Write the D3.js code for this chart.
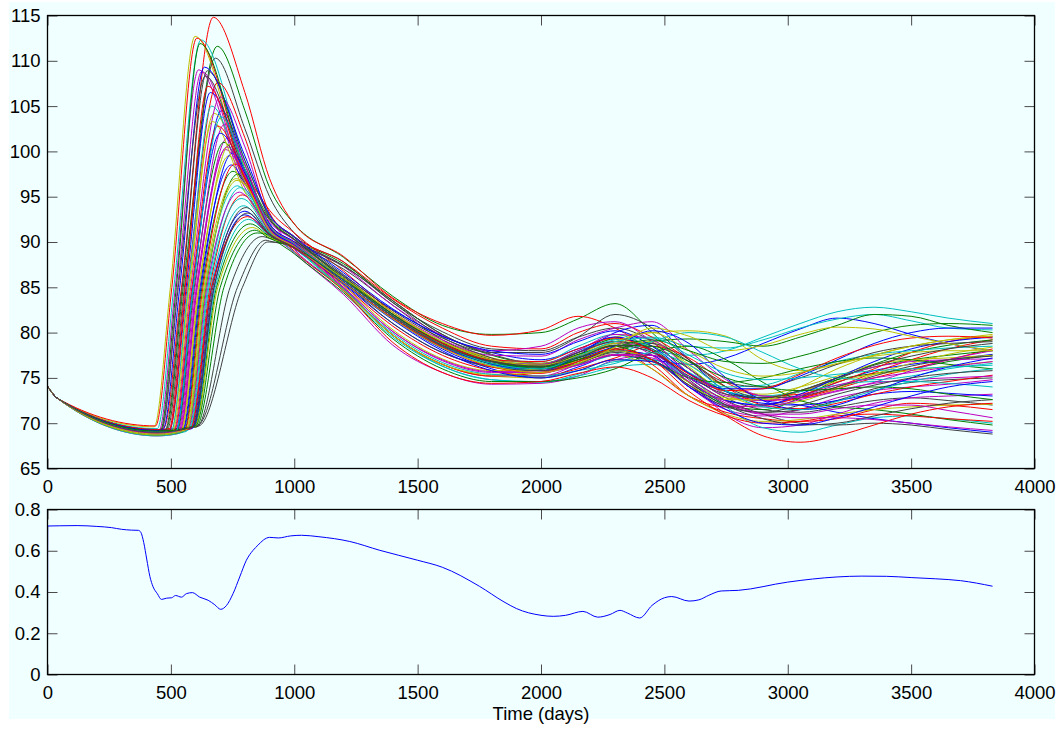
<!DOCTYPE html>
<html>
<head>
<meta charset="utf-8">
<script src="https://cdn.jsdelivr.net/npm/d3@7"></script>
<style>
  body { margin: 0; background: #fff; }
  svg { display: block; font-family: "Liberation Sans", Arial, Helvetica, sans-serif; }
</style>
</head>
<body>
<svg id="chart"></svg>
<script>
// ---- data ----
// shared start of every run (days, value)
const startDays = [0, 40];
const startValues = [74.1, 72.75];
const floorDay = 445;
const riseLevel = 85;   // level used to locate the steep climb of each run

// one entry per run (56 runs, drawn in this order)
const takeoffDay = [522,480,472,445,450,432,484,546,603,438, 581,536,502,610,492,566,495,498,510,540,
  614,584,525,578,563,532,543,606,550,553, 556,592,460,506,476,468,455,488,572,528,
  560,463,518,595,514,575,569,597,587,590, 600,580,520,535,565,589];
const floorValue = [69.0,69.2,69.3,null,null,null,69.1,68.8,69.0,null, 68.9,68.6,69.1,69.3,69.0,68.8,69.3,68.7,69.0,68.8,
  69.1,68.8,68.9,68.9,68.6,69.1,68.9,69.2,69.0,68.7, 68.8,69.0,69.1,69.0,69.1,69.2,null,68.8,68.9,68.9,
  68.7,69.1,69.0,69.1,69.0,68.8,68.9,69.0,69.0,68.9, 69.1,68.9,69.0,68.9,68.8,69.0];
const takeoffValue = [69.1,69.3,69.5,69.4,69.0,69.6,69.2,69.1,69.6,69.7, 69.5,68.9,69.2,69.8,69.0,69.3,69.4,68.8,69.1,69.2,
  69.7,69.4,69.1,69.5,69.1,69.2,69.2,69.6,69.3,69.1, 69.2,69.6,69.2,69.1,69.2,69.3,69.0,68.9,69.4,69.1,
  69.2,69.3,69.1,69.6,69.2,69.3,69.4,69.6,69.5,69.5, 69.7,69.4,69.1,69.1,69.3,69.6];
const riseDay = [590,550,543,512,518,498,555,618,715,504, 662,607,572,770,562,642,566,570,580,612,
  790,666,595,658,638,603,615,740,622,626, 630,680,527,576,546,536,522,558,650,598,
  634,530,588,685,585,654,646,690,670,675, 700,665,590,606,640,675];
const peakDay = [706,688,672,622,612,598,680,745,850,605, 795,730,675,885,660,772,690,665,700,735,
  893,800,715,790,770,722,740,870,750,752, 760,815,625,668,648,636,618,650,782,718,
  765,640,700,822,690,785,778,830,805,800, 840,810,705,728,768,812];
const peakValue = [104.5,111.6,114.8,112.3,109.0,112.7,110.3,98.5,91.0,112.5, 94.0,101.5,104.2,90.2,106.5,97.5,107.6,105.0,106.0,99.5,
  90.0,93.4,101.0,95.2,96.2,100.2,100.8,90.6,99.8,97.8, 98.6,92.5,108.8,103.3,108.9,109.3,111.9,107.2,96.0,103.0,
  97.0,108.3,102.0,92.0,102.8,94.8,95.5,91.6,93.8,93.0, 91.3,92.8,103.8,100.5,96.8,93.2];

// values after the peak, at these days
const lateDays = [800, 900, 1000, 1200, 1400, 1600, 1800, 2000, 2150, 2300, 2450, 2600, 2750, 2900, 3050, 3200, 3350, 3500, 3650, 3830];
const lateValues = [
  [98.5, 92.0, 90.0, 86.3, 82.5, 79.6, 77.8, 77.0, 78.2, 79.5, 78.0, 74.5, 72.5, 72.0, 73.0, 74.5, 75.8, 76.5, 77.0, 77.6],
  [104.5, 96.0, 92.0, 88.3, 84.0, 80.8, 79.8, 80.0, 81.5, 83.2, 80.0, 76.0, 73.5, 72.8, 73.5, 74.8, 75.5, 76.0, 76.8, 77.5],
  [106.5, 97.0, 92.0, 88.4, 83.8, 81.0, 79.7, 80.3, 81.8, 80.5, 78.0, 75.5, 73.5, 72.5, 72.8, 73.8, 75.0, 76.0, 77.0, 78.2],
  [99.0, 93.0, 90.5, 86.0, 82.0, 79.0, 77.0, 76.2, 77.2, 78.6, 78.0, 77.5, 78.0, 79.5, 81.0, 82.3, 82.8, 82.3, 81.6, 81.0],
  [96.0, 92.5, 89.2, 84.9, 79.7, 76.5, 75.2, 75.2, 76.5, 78.0, 77.5, 74.0, 71.5, 70.8, 71.5, 72.8, 73.6, 74.0, 74.3, 74.8],
  [97.0, 92.5, 90.2, 86.0, 81.8, 78.8, 77.0, 76.0, 77.5, 79.5, 80.0, 80.2, 79.6, 77.0, 75.8, 76.5, 77.5, 78.5, 79.2, 79.8],
  [102.5, 95.0, 91.0, 87.8, 83.3, 80.1, 78.2, 78.0, 79.5, 80.5, 79.0, 75.5, 72.8, 71.5, 71.2, 71.8, 72.5, 72.8, 72.5, 72.0],
  [96.5, 91.2, 89.5, 85.5, 81.5, 78.2, 76.0, 75.0, 76.2, 77.5, 77.0, 76.5, 77.2, 78.8, 80.4, 81.6, 81.0, 79.8, 78.8, 78.0],
  [null, 90.8, 90.0, 87.6, 83.5, 79.8, 77.5, 76.6, 77.8, 79.3, 78.5, 76.0, 73.5, 72.8, 73.6, 75.0, 76.2, 77.0, 77.5, 78.0],
  [98.0, 93.5, 91.0, 86.8, 82.2, 78.8, 76.5, 75.5, 76.8, 78.2, 76.0, 73.0, 71.8, 72.0, 72.8, 74.0, 75.6, 77.0, 78.2, 79.2],
  [null, 91.0, 89.5, 85.8, 81.8, 78.8, 77.0, 76.5, 78.0, 79.2, 79.5, 78.5, 78.3, 79.2, 80.5, 81.5, 82.0, 81.3, 80.5, 80.3],
  [97.8, 91.5, 88.8, 84.2, 78.6, 75.6, 74.3, 74.4, 75.2, 77.0, 77.5, 74.5, 71.0, 69.5, 69.8, 71.0, 72.2, 72.8, 73.0, 73.2],
  [97.0, 91.8, 89.8, 86.0, 82.0, 79.0, 77.2, 76.3, 77.6, 79.0, 78.8, 76.5, 74.0, 73.2, 74.0, 75.2, 76.5, 77.0, 77.2, 77.5],
  [null, 90.1, 89.5, 87.0, 83.0, 79.2, 77.0, 75.8, 76.5, 77.5, 76.8, 74.2, 72.0, 71.2, 71.5, 72.5, 73.8, 74.5, 74.8, 75.0],
  [98.0, 92.0, 90.0, 86.2, 82.0, 78.6, 76.5, 75.8, 77.5, 80.0, 80.8, 77.0, 73.5, 72.2, 72.0, 72.5, 73.2, 73.5, 73.3, 73.0],
  [96.8, 91.5, 89.6, 85.6, 81.6, 78.5, 76.8, 76.2, 77.0, 78.0, 77.0, 74.5, 72.0, 71.5, 72.8, 74.8, 76.5, 77.8, 78.6, 79.2],
  [101.5, 93.2, 90.6, 87.8, 83.7, 80.5, 78.5, 78.2, 80.0, 81.0, 79.5, 77.0, 74.0, 72.0, 71.6, 72.2, 73.2, 74.0, 74.6, 75.3],
  [96.5, 91.5, 88.9, 84.8, 79.7, 76.3, 74.8, 74.6, 75.2, 76.2, 76.5, 75.0, 71.8, 69.5, 69.0, 69.8, 70.6, 70.8, 70.5, 70.0],
  [100.5, 92.6, 90.3, 87.3, 83.0, 79.7, 78.0, 78.5, 80.5, 81.2, 79.0, 75.5, 73.0, 72.5, 73.5, 75.0, 76.2, 76.8, 77.0, 77.1],
  [96.8, 91.3, 89.4, 84.7, 79.7, 76.5, 75.2, 75.0, 75.8, 77.0, 76.8, 74.5, 72.8, 72.5, 73.5, 74.6, 75.4, 75.8, 76.3, 76.8],
  [null, 90.0, 89.6, 87.3, 83.5, 79.8, 77.6, 76.6, 77.5, 78.8, 78.0, 75.0, 72.5, 71.0, 70.0, 69.8, 70.0, 69.8, 69.3, 68.8],
  [null, 90.8, 89.3, 85.3, 81.0, 77.8, 76.4, 76.2, 77.8, 79.5, 78.0, 75.0, 73.5, 72.5, 72.0, 71.2, 70.5, 70.0, 69.5, 69.0],
  [97.0, 91.6, 89.8, 85.8, 81.8, 78.6, 76.8, 76.0, 77.0, 78.0, 79.0, 79.3, 79.0, 78.5, 79.5, 80.8, 82.0, 81.8, 80.8, 80.0],
  [null, 91.5, 89.6, 85.2, 80.7, 77.5, 75.8, 75.2, 76.0, 77.2, 78.5, 77.2, 74.5, 73.0, 73.2, 74.5, 76.0, 77.8, 79.0, 79.6],
  [95.6, 91.2, 89.3, 84.6, 79.5, 76.3, 74.8, 74.5, 75.4, 76.8, 77.0, 75.2, 73.5, 73.0, 73.5, 74.2, 74.6, 74.6, 74.4, 74.0],
  [97.2, 91.4, 89.7, 86.0, 82.2, 79.2, 77.5, 77.4, 79.2, 80.5, 81.2, 78.0, 74.8, 73.0, 72.8, 73.5, 74.5, 75.8, 77.0, 78.0],
  [98.4, 91.8, 89.9, 86.2, 82.2, 79.0, 77.2, 76.6, 77.5, 78.8, 79.0, 76.2, 73.2, 72.0, 72.4, 73.8, 75.4, 76.6, 77.6, 78.4],
  [null, 90.4, 89.8, 87.4, 83.3, 79.5, 77.2, 76.0, 76.8, 78.2, 78.8, 76.8, 74.0, 72.8, 73.0, 74.0, 75.2, 76.3, 77.0, 77.4],
  [98.0, 91.6, 89.8, 85.8, 81.8, 78.6, 76.6, 75.8, 76.8, 78.0, 77.5, 74.0, 72.5, 72.0, 73.2, 75.0, 76.8, 78.2, 79.0, 79.5],
  [96.5, 91.0, 88.7, 84.4, 79.3, 76.0, 74.6, 74.6, 75.0, 76.0, 77.8, 78.5, 77.0, 74.5, 72.5, 71.8, 71.5, 71.0, 70.4, 69.8],
  [97.6, 91.4, 89.5, 84.8, 79.7, 76.5, 75.2, 75.6, 77.0, 78.5, 76.5, 73.0, 71.2, 70.5, 70.2, 70.5, 71.5, 72.2, 72.0, 71.5],
  [null, 90.7, 89.4, 85.8, 82.0, 78.8, 77.0, 76.8, 78.5, 79.8, 78.2, 75.6, 74.0, 74.2, 75.5, 76.8, 77.6, 78.0, 78.3, 78.5],
  [96.5, 92.2, 90.2, 86.0, 82.0, 78.8, 76.8, 76.2, 77.8, 79.0, 77.5, 74.0, 72.0, 71.8, 72.6, 73.6, 74.4, 74.8, 75.0, 75.2],
  [95.5, 91.6, 89.8, 85.2, 80.3, 77.1, 75.8, 76.0, 76.8, 77.6, 76.0, 73.0, 71.0, 70.2, 70.4, 71.0, 71.5, 71.8, 72.0, 72.1],
  [99.0, 92.8, 90.5, 86.4, 82.4, 79.4, 77.8, 77.8, 79.5, 82.0, 80.5, 77.0, 74.5, 74.0, 75.0, 76.5, 77.8, 78.5, 78.8, 79.0],
  [99.5, 93.0, 90.6, 86.6, 82.6, 79.6, 78.0, 77.6, 79.0, 80.2, 78.5, 75.5, 73.8, 73.8, 75.2, 77.0, 78.8, 80.0, 80.5, 80.5],
  [98.0, 92.6, 90.3, 86.0, 81.8, 78.6, 76.6, 76.2, 77.6, 78.5, 77.0, 75.0, 74.5, 75.0, 76.0, 76.8, 77.2, 77.0, 76.5, 76.0],
  [97.0, 91.8, 89.0, 84.6, 78.9, 75.6, 74.4, 74.6, 75.5, 76.2, 75.0, 72.5, 70.8, 70.0, 70.2, 70.8, 71.0, 70.8, 70.5, 70.2],
  [95.8, 91.3, 89.5, 85.6, 81.6, 78.4, 76.4, 75.8, 76.5, 77.6, 79.0, 80.0, 79.5, 77.8, 76.0, 75.0, 74.8, 75.2, 76.0, 76.6],
  [98.6, 91.8, 89.9, 85.8, 81.8, 78.6, 76.8, 76.5, 78.0, 79.8, 79.2, 76.0, 73.2, 72.5, 73.0, 74.2, 75.0, 75.6, 76.2, 76.8],
  [96.4, 91.2, 89.4, 84.7, 79.7, 76.5, 75.4, 75.6, 76.6, 78.0, 77.0, 74.2, 72.6, 72.6, 74.0, 76.0, 77.5, 78.5, 79.2, 79.6],
  [97.5, 92.4, 90.3, 86.2, 82.0, 78.9, 76.9, 76.4, 77.8, 79.0, 78.2, 74.8, 72.0, 70.5, 69.8, 70.0, 70.8, 71.6, 72.2, 72.6],
  [97.6, 91.6, 89.7, 85.6, 81.6, 78.4, 76.6, 76.0, 77.2, 78.5, 80.2, 78.8, 75.0, 72.5, 71.5, 72.0, 73.5, 75.0, 76.2, 77.2],
  [null, 90.6, 89.4, 86.0, 82.0, 78.8, 76.8, 76.2, 77.2, 78.6, 78.5, 76.8, 75.0, 74.0, 73.6, 73.8, 74.0, 73.8, 73.2, 72.6],
  [97.2, 91.8, 89.8, 85.8, 81.8, 78.8, 77.0, 76.8, 78.2, 79.4, 78.0, 75.4, 73.6, 73.8, 75.4, 77.2, 78.6, 79.4, 79.6, 79.4],
  [94.7, 91.0, 89.3, 84.8, 79.9, 76.7, 75.4, 75.2, 75.8, 76.6, 77.8, 76.4, 73.6, 71.8, 71.5, 72.4, 73.6, 74.6, 75.4, 76.0],
  [95.2, 91.2, 89.5, 85.0, 80.1, 77.0, 75.7, 75.8, 76.4, 77.5, 77.2, 74.6, 72.2, 71.0, 71.0, 71.6, 72.0, 72.0, 71.4, 70.6],
  [null, 90.5, 89.4, 86.0, 82.2, 79.0, 77.0, 76.4, 77.4, 79.0, 80.0, 78.0, 76.0, 75.2, 75.6, 76.6, 77.4, 77.8, 78.0, 78.0],
  [null, 90.9, 89.5, 85.5, 81.0, 77.8, 76.2, 75.8, 76.6, 77.8, 77.0, 74.2, 71.8, 71.2, 72.0, 73.2, 74.2, 75.0, 75.5, 75.8],
  [null, 90.8, 89.3, 85.4, 81.4, 78.0, 75.8, 75.0, 75.8, 77.0, 76.8, 74.0, 71.5, 70.0, 69.8, 70.6, 71.8, 73.0, 74.0, 74.6],
  [null, 90.4, 89.4, 85.8, 81.8, 78.6, 76.6, 76.0, 77.0, 78.4, 79.2, 78.0, 76.8, 76.6, 77.4, 78.6, 80.0, 80.8, 81.0, 80.8],
  [null, 90.8, 89.3, 85.5, 81.6, 78.4, 76.2, 75.6, 76.8, 78.2, 77.0, 73.5, 70.8, 68.6, 67.9, 68.6, 69.8, 71.0, 71.8, 72.2],
  [98.0, 91.8, 89.8, 85.8, 81.8, 78.6, 76.6, 76.0, 77.4, 79.0, 79.4, 77.5, 75.5, 74.8, 75.0, 75.4, 75.8, 76.0, 76.2, 76.4],
  [97.4, 91.4, 89.6, 85.0, 80.1, 76.9, 75.6, 75.6, 76.4, 77.6, 77.5, 75.0, 72.4, 71.0, 70.6, 70.6, 70.4, 70.0, 69.6, 69.2],
  [96.3, 91.3, 89.5, 85.5, 81.5, 78.3, 76.3, 75.6, 76.6, 78.4, 80.5, 79.6, 78.0, 78.6, 79.8, 80.6, 80.4, 79.6, 78.8, 78.0],
  [null, 90.8, 89.4, 85.8, 81.8, 78.6, 76.8, 76.3, 77.3, 78.6, 77.8, 75.2, 73.2, 72.8, 73.6, 75.0, 76.4, 77.4, 78.2, 78.8]
];

// lower panel: single blue series
const ratioDays = [0, 1, 50, 120, 200, 260, 300, 340, 368, 378, 390, 402, 415, 428, 445, 462, 482, 503, 519, 543,
  563, 587, 617, 651, 678, 702, 725, 752, 779, 806, 833, 853, 875, 900, 935, 985, 1030, 1100, 1225, 1347,
  1500, 1600, 1750, 1850, 1900, 2000, 2050, 2100, 2170, 2230, 2280, 2320, 2350, 2400, 2450, 2500, 2530, 2600, 2640, 2680,
  2730, 2800, 3000, 3200, 3300, 3400, 3500, 3600, 3700, 3830];
const ratioValues = [0, 0.72, 0.721, 0.722, 0.718, 0.712, 0.704, 0.700, 0.699, 0.690, 0.640, 0.560, 0.475, 0.425, 0.392, 0.364, 0.370, 0.372, 0.383, 0.375,
  0.392, 0.397, 0.375, 0.360, 0.338, 0.316, 0.334, 0.392, 0.473, 0.554, 0.602, 0.627, 0.652, 0.665, 0.662, 0.672, 0.675, 0.668, 0.645, 0.602,
  0.554, 0.520, 0.428, 0.352, 0.320, 0.287, 0.282, 0.287, 0.306, 0.278, 0.291, 0.311, 0.298, 0.274, 0.335, 0.372, 0.378, 0.356, 0.362, 0.384,
  0.405, 0.408, 0.448, 0.473, 0.477, 0.476, 0.470, 0.464, 0.455, 0.428];

const xTicks = d3.range(0, 4001, 500);
const topTicks = d3.range(65, 116, 5);
const bottomTicks = [0, 0.2, 0.4, 0.6, 0.8];

// MATLAB default line colour order
const colorOrder = ['#0000ff', '#008000', '#ff0000', '#00bfbf', '#bf00bf', '#bfbf00', '#404040'];

// ---- layout ----
const size = {w: 1063, h: 729};
const svg = d3.select('#chart').attr('width', size.w).attr('height', size.h);

svg.append('rect')
  .attr('x', 9).attr('y', 2)
  .attr('width', 1046).attr('height', 717)
  .attr('fill', '#f0ffff');

const x = d3.scaleLinear().domain([0, 4000]).range([47.5, 1034.5]);
const yTop = d3.scaleLinear().domain([65, 115]).range([468.5, 15.5]);
const yBot = d3.scaleLinear().domain([0, 0.8]).range([674.5, 509.5]);

const fontSize = 18.5;

function frame(yScale, yTickValues, yFormat) {
  const g = svg.append('g');
  const [y0, y1] = yScale.range();
  const [x0, x1] = x.range();

  g.append('g').attr('transform', `translate(0,${y0})`)
    .call(d3.axisBottom(x).tickValues(xTicks).tickSizeInner(-10).tickSizeOuter(0).tickPadding(11).tickFormat(d3.format('d')));
  g.append('g').attr('transform', `translate(0,${y1})`)
    .call(d3.axisTop(x).tickValues(xTicks).tickSizeInner(-10).tickSizeOuter(0).tickFormat(''));
  g.append('g').attr('transform', `translate(${x0},0)`)
    .call(d3.axisLeft(yScale).tickValues(yTickValues).tickSizeInner(-10).tickSizeOuter(0).tickPadding(7).tickFormat(yFormat));
  g.append('g').attr('transform', `translate(${x1},0)`)
    .call(d3.axisRight(yScale).tickValues(yTickValues).tickSizeInner(-10).tickSizeOuter(0).tickFormat(''));

  g.selectAll('.domain').remove();
  g.selectAll('.tick line').attr('stroke', '#4a4a4a').attr('stroke-width', 1);
  g.selectAll('.tick text').attr('fill', '#000').style('font-size', fontSize + 'px')
    .style('font-family', '"Liberation Sans", Arial, Helvetica, sans-serif');

  g.append('rect')
    .attr('x', x0).attr('y', y1)
    .attr('width', x1 - x0).attr('height', y0 - y1)
    .attr('fill', 'none').attr('stroke', '#000').attr('stroke-width', 1.3);
  return g;
}

// ---- top panel: all runs ----
const lineTop = d3.line()
  .x(d => x(d[0]))
  .y(d => yTop(d[1]))
  .curve(d3.curveMonotoneX);

const runs = takeoffDay.map((t0, i) => {
  const pts = startDays.map((d, k) => [d, startValues[k]]);
  if (floorValue[i] != null && t0 - floorDay > 10) pts.push([floorDay, floorValue[i]]);
  pts.push([t0, takeoffValue[i]]);
  if (riseDay[i] < peakDay[i]) pts.push([riseDay[i], riseLevel]);
  pts.push([peakDay[i], peakValue[i]]);
  lateDays.forEach((d, k) => {
    const v = lateValues[i][k];
    if (v != null && d > peakDay[i]) pts.push([d, v]);
  });
  return pts;
});

svg.append('g')
  .selectAll('path')
  .data(runs)
  .join('path')
  .attr('d', lineTop)
  .attr('fill', 'none')
  .attr('stroke', (d, i) => colorOrder[i % colorOrder.length])
  .attr('stroke-width', 1);

frame(yTop, topTicks, d3.format('d'));

// ---- bottom panel ----
const lineBot = d3.line()
  .x(d => x(d[0]))
  .y(d => yBot(d[1]))
  .curve(d3.curveMonotoneX);

svg.append('path')
  .datum(ratioDays.map((d, k) => [d, ratioValues[k]]))
  .attr('d', lineBot)
  .attr('fill', 'none')
  .attr('stroke', '#0000ff')
  .attr('stroke-width', 1);

frame(yBot, bottomTicks, d => d === 0 ? '0' : d3.format('.1f')(d));

svg.append('text')
  .attr('x', (x.range()[0] + x.range()[1]) / 2)
  .attr('y', 720)
  .attr('text-anchor', 'middle')
  .style('font-size', fontSize + 'px')
  .text('Time (days)');
</script>
</body>
</html>
